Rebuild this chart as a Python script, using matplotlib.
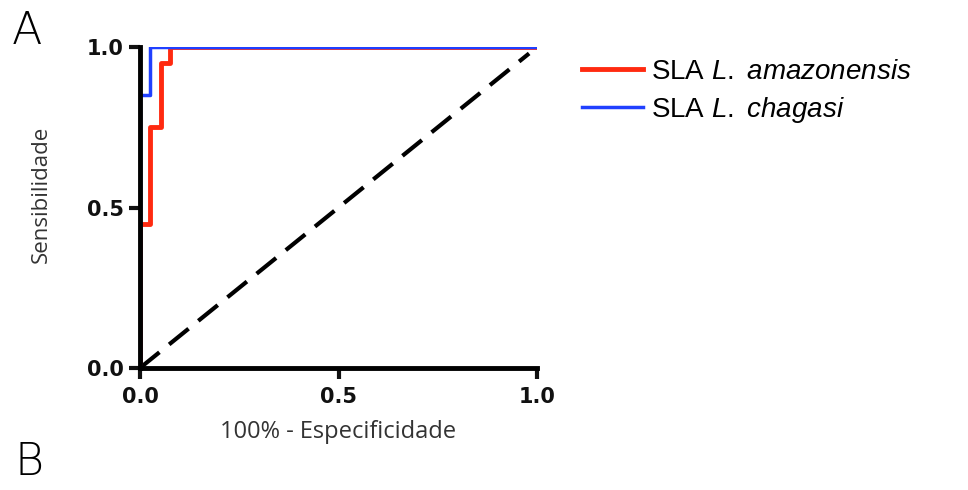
import matplotlib.pyplot as plt

plt.rcParams['mathtext.fontset'] = 'custom'
plt.rcParams['mathtext.rm'] = 'Liberation Sans'
plt.rcParams['mathtext.it'] = 'Liberation Sans:italic'

# curvas ROC (1 - especificidade, sensibilidade)
amaz_x = [0.0, 0.0, 0.025, 0.025, 0.053, 0.053, 0.075, 0.075, 1.0]
amaz_y = [0.0, 0.45, 0.45, 0.75, 0.75, 0.95, 0.95, 1.0, 1.0]
chag_x = [0.0, 0.0, 0.025, 0.025, 1.0]
chag_y = [0.0, 0.85, 0.85, 1.0, 1.0]
ref_x = [0.0, 0.98]
ref_y = [0.0, 0.98]

fig = plt.figure(figsize=(9.68, 4.9), dpi=100)
ax = fig.add_axes([0.1446, 0.249, 0.4102, 0.655])

ax.plot(ref_x, ref_y, color='black', lw=3, ls=(0, (6, 3)), zorder=1)
ax.plot(amaz_x, amaz_y, color='#ff2a10', lw=3.5, label='SLA $\\mathit{L.\\ amazonensis}$', zorder=2.1)
ax.plot(chag_x, chag_y, color='#2040ff', lw=2.5, label='SLA $\\mathit{L.\\ chagasi}$', zorder=2.2)

ax.set_xlim(0, 1.0)
ax.set_ylim(0, 1.0)
ax.set_xticks([0, 0.5, 1.0])
ax.set_yticks([0, 0.5, 1.0])
ax.set_xticklabels(['0.0', '0.5', '1.0'], fontsize=15, fontweight='bold', family='DejaVu Sans')
ax.set_yticklabels(['0.0', '0.5', '1.0'], fontsize=15, fontweight='bold', family='DejaVu Sans')
for s in ['top', 'right']:
    ax.spines[s].set_visible(False)
for s in ['left', 'bottom']:
    ax.spines[s].set_linewidth(3.5)
ax.tick_params(width=3, length=8, colors='#111111')
ax.tick_params(axis='x', pad=6)

ax.set_xlabel('100% - Especificidade', fontsize=17, family='Open Sans', color='#333333', labelpad=9)
ax.set_ylabel('Sensibilidade', fontsize=16, family='Open Sans', color='#333333')
ax.yaxis.set_label_coords(-0.222, 0.54)

leg = ax.legend(loc='upper left', bbox_to_anchor=(1.05, 1.04), frameon=False,
                prop={'family': 'Liberation Sans', 'size': 20}, handlelength=2.2,
                handletextpad=0.3, labelspacing=0.35)

fig.text(0.012, 0.91, 'A', fontsize=32, family='DejaVu Sans', fontweight='light')
fig.text(0.015, 0.03, 'B', fontsize=32, family='DejaVu Sans', fontweight='light')

fig.savefig('out.png', dpi=100)
